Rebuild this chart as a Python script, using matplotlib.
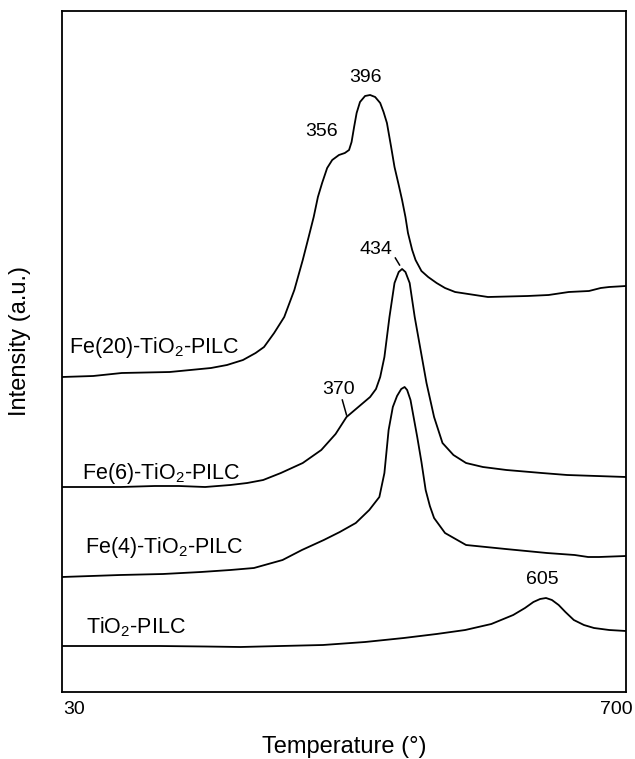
import matplotlib
matplotlib.use("Agg")
import matplotlib.pyplot as plt

plt.rcParams["font.family"] = ["Liberation Sans", "DejaVu Sans"]
plt.rcParams["mathtext.fontset"] = "custom"
plt.rcParams["mathtext.rm"] = "Liberation Sans"

# TPR profiles, stacked (intensity in a.u.)
t_fe20 = [30, 67, 101, 158, 207, 226, 245, 260, 270, 282, 294, 306, 316, 323, 329, 334,
          339, 345, 351, 359, 366, 371, 374, 377, 380, 384, 390, 396, 402, 408, 412, 416,
          421, 425, 430, 434, 438, 441, 446, 450, 457, 465, 475, 485, 497, 536, 583, 608,
          632, 656, 670, 680, 700]
i_fe20 = [3.15, 3.16, 3.19, 3.20, 3.24, 3.27, 3.32, 3.39, 3.45, 3.59, 3.75, 4.02, 4.32, 4.55,
          4.75, 4.95, 5.09, 5.24, 5.32, 5.37, 5.39, 5.42, 5.50, 5.65, 5.79, 5.90, 5.96, 5.97,
          5.95, 5.89, 5.80, 5.69, 5.45, 5.25, 5.07, 4.92, 4.75, 4.59, 4.42, 4.32, 4.21, 4.15,
          4.09, 4.04, 4.00, 3.95, 3.96, 3.97, 4.00, 4.01, 4.04, 4.05, 4.06]

t_fe6 = [30, 100, 140, 169, 200, 230, 250, 269, 290, 316, 338, 355, 368, 382, 396, 403,
         408, 413, 419, 425, 430, 434, 438, 443, 449, 456, 463, 472, 482, 495, 510, 530,
         558, 600, 630, 665, 700]
i_fe6 = [2.05, 2.05, 2.06, 2.06, 2.05, 2.07, 2.09, 2.12, 2.19, 2.29, 2.42, 2.58, 2.75, 2.85,
         2.95, 3.03, 3.15, 3.35, 3.75, 4.09, 4.20, 4.23, 4.20, 4.09, 3.75, 3.42, 3.09, 2.75,
         2.49, 2.37, 2.29, 2.25, 2.22, 2.19, 2.17, 2.16, 2.15]

t_fe4 = [30, 99, 150, 195, 230, 258, 275, 292, 315, 341, 360, 379, 395, 407, 413, 418,
         423, 428, 433, 437, 440, 444, 452, 457, 462, 467, 472, 485, 510, 557, 606, 639,
         655, 668, 700]
i_fe4 = [1.15, 1.17, 1.18, 1.20, 1.22, 1.24, 1.28, 1.32, 1.42, 1.52, 1.60, 1.69, 1.82, 1.95,
         2.19, 2.62, 2.85, 2.96, 3.03, 3.05, 3.02, 2.92, 2.55, 2.30, 2.02, 1.86, 1.74, 1.59,
         1.47, 1.43, 1.39, 1.37, 1.35, 1.35, 1.36]

t_ti = [30, 90, 146, 200, 242, 290, 340, 390, 436, 475, 509, 540, 566, 580, 590, 598,
        605, 612, 620, 628, 638, 650, 662, 680, 700]
i_ti = [0.46, 0.46, 0.46, 0.455, 0.45, 0.46, 0.47, 0.50, 0.54, 0.58, 0.62, 0.68, 0.77, 0.84,
        0.90, 0.93, 0.94, 0.92, 0.87, 0.80, 0.72, 0.67, 0.64, 0.62, 0.61]

sample_names = [r"Fe(20)-TiO$_\mathregular{2}$-PILC", r"Fe(6)-TiO$_\mathregular{2}$-PILC",
                r"Fe(4)-TiO$_\mathregular{2}$-PILC", r"TiO$_\mathregular{2}$-PILC"]
name_pos = [(38, 3.44), (54, 2.19), (57, 1.44), (59, 0.65)]

peak_text = ["396", "356", "434", "370", "605"]
peak_pos = [(390, 6.15), (338, 5.60), (403, 4.42), (358, 3.02), (601, 1.12)]
leaders = [((426, 431), (4.34, 4.27)), ((363, 368), (2.92, 2.77))]

x_ends = [30, 700]

fig = plt.figure(figsize=(6.35, 7.59), dpi=100)
ax = fig.add_axes([62 / 635, 1 - 692 / 759, 564 / 635, 681 / 759])

for t, i in [(t_fe20, i_fe20), (t_fe6, i_fe6), (t_fe4, i_fe4), (t_ti, i_ti)]:
    ax.plot(t, i, color="black", lw=1.3, solid_joinstyle="round")

for name, (x, y) in zip(sample_names, name_pos):
    ax.text(x, y, name, fontsize=15.5, ha="left", va="center")

for txt, (x, y) in zip(peak_text, peak_pos):
    ax.text(x, y, txt, fontsize=14, ha="center", va="center")

for xs, ys in leaders:
    ax.plot(xs, ys, color="black", lw=1.1)

ax.set_xlim(x_ends[0], x_ends[1])
ax.set_ylim(0, 6.81)
ax.set_xticks([])
ax.set_yticks([])

# end labels of the temperature axis, nudged like the printed figure
ax.annotate(str(x_ends[0]), xy=(x_ends[0], 0), xycoords=("data", "axes fraction"),
            xytext=(1, -9), textcoords="offset pixels", ha="left", va="top", fontsize=14)
ax.annotate(str(x_ends[1]), xy=(x_ends[1], 0), xycoords=("data", "axes fraction"),
            xytext=(7, -9), textcoords="offset pixels", ha="right", va="top", fontsize=14)

for s in ax.spines.values():
    s.set_linewidth(1.3)

ax.set_xlabel("Temperature (°)", fontsize=17)
ax.xaxis.set_label_coords(0.5, -0.065)
ax.set_ylabel("Intensity (a.u.)", fontsize=17)
ax.yaxis.set_label_coords(-0.055, 0.515)

fig.savefig("out.png", dpi=100)
